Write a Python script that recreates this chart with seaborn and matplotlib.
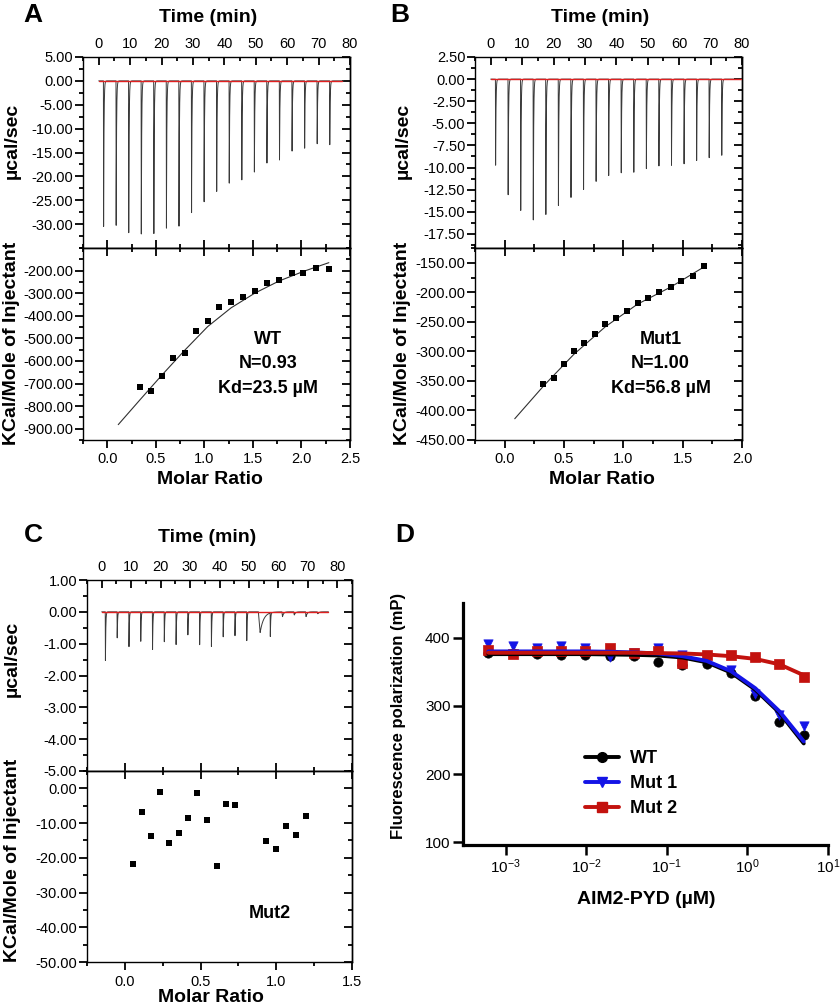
import numpy as np
import pandas as pd
import seaborn as sns
import matplotlib.pyplot as plt
from matplotlib.lines import Line2D
from matplotlib.ticker import MultipleLocator, FixedLocator, FuncFormatter, FormatStrFormatter, LogLocator, NullLocator

W, H = 840, 1007

### DATA

# raw ITC thermograms: injection times (min), peak heights (ucal/sec), peak widths (min)
a_inj_time = [1.5, 5.5, 9.5, 13.5, 17.5, 21.5, 25.5, 29.5, 33.5, 37.5, 41.5, 45.5, 49.5, 53.5, 57.5, 61.5, 65.5, 69.5, 73.5]
a_peak = [-30.5, -30.5, -32.3, -32.3, -32.1, -31.2, -30.9, -27.6, -25.5, -23.5, -21.6, -20.8, -19.3, -17.5, -16.6, -14.8, -14.3, -13.3, -13.4]
a_base_end = 77.5

b_inj_time = [1.5, 5.5, 9.5, 13.5, 17.5, 21.5, 25.5, 29.5, 33.5, 37.5, 41.5, 45.5, 49.5, 53.5, 57.5, 61.5, 65.5, 69.5, 73.5]
b_peak = [-9.74, -13.1, -14.9, -16.0, -15.4, -14.4, -13.5, -12.6, -11.7, -11.05, -10.75, -10.7, -10.3, -10.0, -9.9, -9.7, -9.3, -8.95, -8.65]
b_base_end = 80.0

c_inj_time = [1.2, 5.2, 9.2, 13.2, 17.2, 21.2, 25.2, 29.2, 33.2, 37.2, 41.2, 45.2, 49.2, 53.2, 57.2, 61.2, 65.2, 69.2, 73.2]
c_peak = [-1.54, -0.83, -1.10, -0.93, -1.20, -0.95, -1.03, -0.73, -1.05, -1.09, -0.79, -0.76, -0.91, -0.65, -0.75, -0.15, -0.10, -0.15, -0.06]
c_width = [0.12, 0.12, 0.12, 0.12, 0.12, 0.12, 0.12, 0.12, 0.12, 0.12, 0.12, 0.12, 0.12, 1.2, 0.12, 0.4, 0.4, 0.4, 0.4]
c_base_end = 77.0

# integrated heats (KCal/Mole of injectant) vs molar ratio
a_ratio = [0.337, 0.45, 0.564, 0.68, 0.797, 0.917, 1.034, 1.151, 1.275, 1.40, 1.52, 1.64, 1.77, 1.90, 2.02, 2.15, 2.28]
a_heat = [-715, -735, -668, -588, -563, -466, -422, -362, -340, -317, -289, -255, -241, -212, -212, -187, -194]
a_fit_x = [0.113, 0.337, 0.564, 0.797, 1.034, 1.275, 1.519, 1.770, 2.024, 2.282]
a_fit_y = [-882, -772, -662, -553, -448, -365, -300, -246, -203, -165]

b_ratio = [0.327, 0.414, 0.496, 0.583, 0.67, 0.76, 0.848, 0.938, 1.028, 1.12, 1.21, 1.30, 1.40, 1.49, 1.585, 1.68]
b_heat = [-355, -345, -321, -300, -286, -271, -254, -244, -232, -218, -210, -200, -191, -181, -173, -156]
b_fit_x = [0.085, 0.33, 0.583, 0.85, 1.12, 1.40, 1.68]
b_fit_y = [-414, -358, -305, -258, -220, -191, -157]

c_ratio = [0.055, 0.114, 0.174, 0.233, 0.293, 0.355, 0.414, 0.476, 0.542, 0.606, 0.67, 0.73, 0.93, 0.996, 1.062, 1.13, 1.198]
c_heat = [-21.7, -6.7, -13.7, -1.05, -15.7, -12.8, -8.4, -1.3, -9.25, -22.3, -4.6, -4.9, -15.3, -17.6, -10.7, -13.5, -7.85]

# fluorescence polarization (mP) vs AIM2-PYD (uM)
fp_conc = [0.00061, 0.00122, 0.00244, 0.00488, 0.00977, 0.0195, 0.039, 0.078, 0.156, 0.3125, 0.625, 1.25, 2.5, 5.0]
fp_wt = [378, 377, 376, 375, 375, 373, 373, 364, 360, 361, 348, 314, 276, 257]
fp_mut1 = [391, 388, 385, 388, 385, 372, 378, 385, 375, 371, 352, 318, 287, 271]
fp_mut2 = [382, 376.5, 380, 381, 380, 385, 377.5, 380, 363, 375, 374, 372, 362, 343]
fit_wt = [376, 376, 376, 376, 376, 375.5, 375, 374, 371, 364, 349, 324, 290, 245]
fit_mut1 = [380, 380, 380, 380, 380, 379.5, 378.5, 377, 373, 366, 351, 326, 292, 248]
fit_mut2 = [378, 378, 378, 378, 378, 378, 378, 377.5, 377, 375.5, 373, 369, 361, 345]


### STYLE
sns.set_theme(style='ticks', rc={'axes.edgecolor': 'black', 'xtick.color': 'black', 'ytick.color': 'black',
                                 'text.color': 'black', 'axes.labelcolor': 'black', 'axes.linewidth': 1.0})
plt.rcParams['font.family'] = ['Liberation Sans', 'DejaVu Sans']

TICK_FS = 10.5
LABEL_FS = 14
MAJ, MINR, TW = 5.5, 3.2, 1.3


def rect(l, t, r, b):
    return [l / W, 1 - b / H, (r - l) / W, (b - t) / H]


def fmt2(v, pos):
    return '{:.2f}'.format(round(v, 6) + 0.0)


def thermogram(inj_time, peak, width, t_end):
    t = np.linspace(0, t_end, 24000)
    y = np.zeros_like(t)
    for t0, p, w in zip(inj_time, peak, width):
        d = t - t0
        rise = (d >= 0) & (d < 0.5 * w)
        y[rise] += p * d[rise] / (0.5 * w)
        fall = d >= 0.5 * w
        y[fall] += p * np.exp(-(d[fall] - 0.5 * w) / w)
    return pd.DataFrame({'time': t, 'power': y})


def right_ticks(ax, yticks, yminor):
    sec = ax.secondary_yaxis('right')
    sec.yaxis.set_major_locator(FixedLocator(yticks))
    sec.yaxis.set_minor_locator(MultipleLocator(yminor))
    sec.tick_params(axis='y', which='both', direction='in', labelright=False, width=TW, color='black')
    sec.tick_params(axis='y', which='major', length=MAJ)
    sec.tick_params(axis='y', which='minor', length=MINR)
    sec.spines['right'].set_linewidth(1.0)


def style_raw(ax, tlim, ylim, yticks, yminor, xlab_pos, ylab_pos):
    ax.set_xlim(tlim)
    ax.set_ylim(ylim)
    ax.xaxis.set_major_locator(MultipleLocator(10))
    ax.xaxis.set_minor_locator(MultipleLocator(5))
    ax.yaxis.set_major_locator(FixedLocator(yticks))
    ax.yaxis.set_minor_locator(MultipleLocator(yminor))
    ax.yaxis.set_major_formatter(FuncFormatter(fmt2))
    ax.tick_params(axis='x', which='both', direction='in', top=True, bottom=False,
                   labeltop=True, labelbottom=False, pad=4, width=TW, length=MAJ, color='black')
    ax.tick_params(axis='y', which='both', direction='out', left=True, right=False, pad=1.5,
                   width=TW, color='black')
    ax.tick_params(which='major', length=MAJ, labelsize=TICK_FS)
    ax.tick_params(which='minor', length=MINR)
    right_ticks(ax, yticks, yminor)
    ax.xaxis.set_label_position('top')
    ax.set_xlabel('Time (min)', fontsize=LABEL_FS, weight='bold')
    ax.set_ylabel('\u00b5cal/sec', fontsize=LABEL_FS, weight='bold')
    ax.xaxis.set_label_coords(*xlab_pos)
    ax.yaxis.set_label_coords(*ylab_pos)
    ax.xaxis.label.set_va('center')
    ax.yaxis.label.set_va('center')


def style_int(ax, xlim, xticks, ylim, yticks, yminor, xlab_pos, ylab_pos):
    ax.set_xlim(xlim)
    ax.set_ylim(ylim)
    ax.xaxis.set_major_locator(FixedLocator(xticks))
    ax.xaxis.set_minor_locator(MultipleLocator(0.25))
    ax.xaxis.set_major_formatter(FormatStrFormatter('%.1f'))
    ax.yaxis.set_major_locator(FixedLocator(yticks))
    ax.yaxis.set_minor_locator(MultipleLocator(yminor))
    ax.yaxis.set_major_formatter(FuncFormatter(fmt2))
    ax.tick_params(axis='both', which='both', direction='out', top=False, right=False,
                   left=True, bottom=True, width=TW, color='black')
    ax.tick_params(axis='y', pad=1.5)
    ax.tick_params(which='major', length=MAJ, labelsize=TICK_FS)
    ax.tick_params(which='minor', length=MINR)
    sec = ax.secondary_xaxis('top')
    sec.xaxis.set_major_locator(FixedLocator(xticks))
    sec.xaxis.set_minor_locator(MultipleLocator(0.25))
    sec.tick_params(axis='x', which='both', direction='inout', labeltop=False, width=TW, color='black')
    sec.tick_params(axis='x', which='major', length=2 * MAJ)
    sec.tick_params(axis='x', which='minor', length=2 * MINR)
    right_ticks(ax, yticks, yminor)
    ax.set_xlabel('Molar Ratio', fontsize=LABEL_FS, weight='bold')
    ax.set_ylabel('KCal/Mole of Injectant', fontsize=LABEL_FS, weight='bold')
    ax.xaxis.set_label_coords(*xlab_pos)
    ax.yaxis.set_label_coords(*ylab_pos)
    ax.xaxis.label.set_va('center')
    ax.yaxis.label.set_va('center')


def draw_raw(ax, inj_time, peak, width, base_end, t_end):
    df = thermogram(inj_time, peak, width, t_end)
    sns.lineplot(data=df, x='time', y='power', ax=ax, color='#3a3a3a', lw=0.7,
                 estimator=None, sort=False, zorder=2)
    sns.lineplot(x=[0, base_end], y=[0, 0], ax=ax, color='#e02020', lw=1.0, zorder=3)


def draw_int(ax, ratio, heat, fit_x=None, fit_y=None):
    if fit_x is not None:
        sns.lineplot(x=fit_x, y=fit_y, ax=ax, color='#303030', lw=0.8, sort=False, estimator=None)
    sns.scatterplot(x=ratio, y=heat, ax=ax, marker='s', color='black', s=20, linewidth=0, zorder=3)


fig = plt.figure(figsize=(W / 100, H / 100), dpi=100)

### PANEL A
axA1 = fig.add_axes(rect(83, 57, 350, 248))
axA2 = fig.add_axes(rect(83, 248, 350, 440))
draw_raw(axA1, a_inj_time, a_peak, [0.12] * len(a_peak), a_base_end, 78)
style_raw(axA1, (-5, 80), (-35, 5), np.arange(5, -31, -5), 2.5, (0.467, 1.209), (-0.266, 0.56))
draw_int(axA2, a_ratio, a_heat, a_fit_x, a_fit_y)
style_int(axA2, (-0.25, 2.5), np.arange(0, 2.51, 0.5), (-950, -100), np.arange(-200, -901, -100), 50,
          (0.476, -0.208), (-0.266, 0.505))
for txt, yy in zip(['WT', 'N=0.93', 'Kd=23.5 \u00b5M'], [0.521, 0.396, 0.266]):
    axA2.text(0.693, yy, txt, transform=axA2.transAxes, ha='center', va='center', fontsize=13, weight='bold')

### PANEL B
axB1 = fig.add_axes(rect(475, 57, 742, 248))
axB2 = fig.add_axes(rect(475, 248, 742, 440))
draw_raw(axB1, b_inj_time, b_peak, [0.12] * len(b_peak), b_base_end, 80)
style_raw(axB1, (-5, 80), (-19.1, 2.5), np.arange(2.5, -17.6, -2.5), 1.25, (0.468, 1.209), (-0.27, 0.56))
draw_int(axB2, b_ratio, b_heat, b_fit_x, b_fit_y)
style_int(axB2, (-0.25, 2.0), np.arange(0, 2.01, 0.5), (-450, -125), np.arange(-150, -451, -50), 25,
          (0.476, -0.208), (-0.27, 0.505))
for txt, yy in zip(['Mut1', 'N=1.00', 'Kd=56.8 \u00b5M'], [0.521, 0.396, 0.266]):
    axB2.text(0.695, yy, txt, transform=axB2.transAxes, ha='center', va='center', fontsize=13, weight='bold')

### PANEL C
axC1 = fig.add_axes(rect(87, 580, 352, 771))
axC2 = fig.add_axes(rect(87, 771, 352, 962))
draw_raw(axC1, c_inj_time, c_peak, c_width, c_base_end, 77)
style_raw(axC1, (-5, 85), (-5, 1), np.arange(1, -5.1, -1), 0.5, (0.455, 1.225), (-0.283, 0.586))
draw_int(axC2, c_ratio, c_heat)
style_int(axC2, (-0.25, 1.5), np.arange(0, 1.51, 0.5), (-50, 5), np.arange(0, -51, -10), 5,
          (0.466, -0.188), (-0.283, 0.534))
axC2.text(0.69, 0.256, 'Mut2', transform=axC2.transAxes, ha='center', va='center', fontsize=13, weight='bold')

### PANEL D
axD = fig.add_axes(rect(463, 603, 828, 845))
axD.set_xscale('log')
series = [('WT', fp_wt, fit_wt, 'black', 'o'),
          ('Mut 1', fp_mut1, fit_mut1, '#1414e6', 'v'),
          ('Mut 2', fp_mut2, fit_mut2, '#c3120e', 's')]
handles = []
for name, pts, fit, col, mk in series:
    sns.scatterplot(x=fp_conc, y=pts, ax=axD, marker=mk, color=col, s=45, edgecolor=col, linewidth=0.5, zorder=3)
    sns.lineplot(x=fp_conc, y=fit, ax=axD, color=col, lw=2.8, sort=False, estimator=None, zorder=4)
    handles.append(Line2D([], [], color=col, lw=2.8, marker=mk, markersize=7))
axD.set_xlim(10 ** -3.53, 10)
axD.set_ylim(96, 451)
axD.xaxis.set_major_locator(LogLocator(base=10, numticks=10))
axD.xaxis.set_minor_locator(NullLocator())
axD.yaxis.set_major_locator(FixedLocator([100, 200, 300, 400]))
sns.despine(ax=axD)
for sp in ['left', 'bottom']:
    axD.spines[sp].set_linewidth(2.3)
axD.tick_params(axis='both', which='major', direction='out', length=7, width=1.8, labelsize=11, pad=2)
axD.set_xlabel('AIM2-PYD (\u00b5M)', fontsize=14, weight='bold')
axD.set_ylabel('Fluorescence polarization (mP)', fontsize=12, weight='bold')
axD.xaxis.set_label_coords(0.503, -0.227)
axD.yaxis.set_label_coords(-0.178, 0.533)
axD.xaxis.label.set_va('center')
axD.yaxis.label.set_va('center')
axD.legend(handles, ['WT', 'Mut 1', 'Mut 2'], loc='upper left', bbox_to_anchor=(0.31, 0.43),
           frameon=False, prop={'weight': 'bold', 'size': 13}, handlelength=1.9,
           handletextpad=0.6, labelspacing=0.45, borderpad=0)

### PANEL LETTERS
for letter, x, y in [('A', 33, 15), ('B', 400, 15), ('C', 33, 535), ('D', 405, 535)]:
    fig.text(x / W, 1 - y / H, letter, ha='center', va='center', fontsize=19, weight='bold')

fig.savefig('out.png', dpi=100)
